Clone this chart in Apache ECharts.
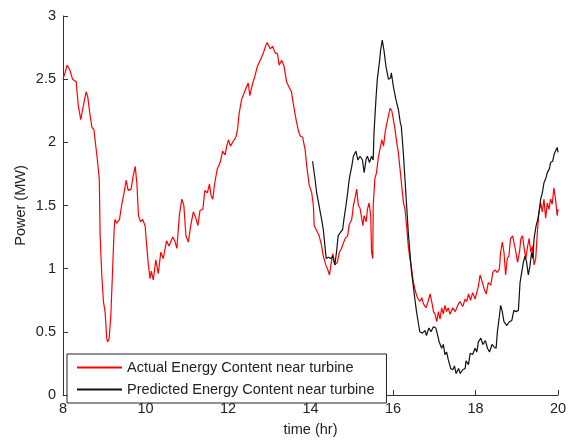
<!DOCTYPE html>
<html>
<head>
<meta charset="utf-8">
<script src="https://cdn.jsdelivr.net/npm/echarts@6/dist/echarts.min.js"></script>
<style>html,body{margin:0;padding:0;background:#fff;}#c{width:570px;height:442px;}</style>
</head>
<body>
<div id="c"></div>
<script>
var seriesNames = ['Actual Energy Content near turbine', 'Predicted Energy Content near turbine'];
var xTicks = [8, 10, 12, 14, 16, 18, 20];
var yTicks = [0, 0.5, 1, 1.5, 2, 2.5, 3];

var actualT = [8.00,8.05,8.10,8.17,8.23,8.32,8.37,8.43,8.50,8.56,8.60,8.65,8.70,8.75,8.83,8.88,8.90,8.94,8.98,9.02,9.06,9.08,9.12,9.16,9.20,9.24,9.26,9.30,9.37,9.42,9.48,9.53,9.58,9.65,9.70,9.75,9.79,9.83,9.88,9.93,9.99,10.03,10.07,10.11,10.14,10.19,10.25,10.31,10.37,10.43,10.51,10.57,10.66,10.71,10.76,10.82,10.88,10.93,10.98,11.04,11.09,11.16,11.22,11.27,11.32,11.39,11.44,11.50,11.55,11.59,11.63,11.68,11.74,11.81,11.87,11.93,11.97,12.01,12.06,12.13,12.19,12.23,12.27,12.33,12.38,12.45,12.49,12.53,12.60,12.65,12.71,12.78,12.86,12.92,12.95,13.02,13.08,13.14,13.20,13.24,13.30,13.36,13.42,13.49,13.54,13.58,13.65,13.70,13.75,13.81,13.87,13.91,13.97,14.03,14.07,14.09,14.15,14.21,14.27,14.31,14.37,14.41,14.46,14.50,14.54,14.59,14.65,14.70,14.75,14.79,14.84,14.90,14.94,15.00,15.04,15.08,15.12,15.16,15.20,15.24,15.27,15.30,15.35,15.38,15.42,15.46,15.48,15.51,15.52,15.56,15.60,15.64,15.68,15.73,15.77,15.81,15.85,15.89,15.93,15.97,16.01,16.05,16.09,16.13,16.17,16.21,16.25,16.29,16.33,16.37,16.41,16.45,16.49,16.53,16.57,16.61,16.65,16.70,16.74,16.80,16.85,16.90,16.95,16.98,17.02,17.06,17.10,17.14,17.18,17.22,17.26,17.30,17.34,17.38,17.45,17.51,17.57,17.62,17.69,17.75,17.79,17.83,17.88,17.93,17.99,18.03,18.07,18.11,18.15,18.21,18.26,18.31,18.37,18.42,18.47,18.53,18.58,18.61,18.65,18.69,18.73,18.77,18.81,18.85,18.90,18.94,18.98,19.02,19.07,19.10,19.14,19.18,19.22,19.26,19.30,19.34,19.38,19.42,19.46,19.50,19.54,19.58,19.62,19.66,19.70,19.74,19.78,19.82,19.86,19.90,19.94,19.98,20.00];
var actualP = [2.50,2.55,2.61,2.57,2.50,2.48,2.29,2.18,2.30,2.40,2.36,2.23,2.12,2.10,1.87,1.71,1.26,0.95,0.74,0.66,0.45,0.42,0.45,0.63,0.97,1.31,1.39,1.36,1.39,1.50,1.60,1.70,1.62,1.63,1.73,1.81,1.68,1.42,1.37,1.39,1.34,1.18,1.03,0.92,0.98,0.91,1.07,0.96,1.13,1.08,1.22,1.18,1.25,1.22,1.16,1.42,1.55,1.50,1.26,1.21,1.33,1.45,1.40,1.34,1.46,1.47,1.62,1.60,1.67,1.58,1.55,1.68,1.79,1.84,1.93,1.90,1.97,2.02,1.97,2.01,2.04,2.10,2.23,2.34,2.38,2.44,2.47,2.37,2.47,2.52,2.60,2.65,2.71,2.77,2.79,2.74,2.76,2.71,2.70,2.61,2.65,2.60,2.48,2.43,2.40,2.31,2.18,2.10,2.05,2.04,1.94,1.81,1.66,1.60,1.50,1.34,1.30,1.26,1.18,1.10,1.03,1.00,0.95,1.04,1.12,1.03,1.05,1.13,1.16,1.16,1.24,1.26,1.35,1.39,1.50,1.56,1.63,1.50,1.48,1.47,1.34,1.42,1.37,1.47,1.52,1.42,1.13,1.08,1.50,1.71,1.76,1.87,1.94,2.02,1.97,2.08,2.15,2.21,2.27,2.25,2.18,2.10,2.00,1.92,1.79,1.66,1.53,1.47,1.34,1.18,1.08,1.00,0.90,0.84,0.79,0.76,0.74,0.77,0.72,0.69,0.74,0.80,0.72,0.66,0.64,0.58,0.66,0.60,0.69,0.64,0.71,0.66,0.69,0.64,0.69,0.66,0.71,0.74,0.70,0.76,0.74,0.80,0.75,0.81,0.76,0.81,0.86,0.95,0.91,0.84,0.80,0.89,0.87,0.97,0.99,0.97,1.00,1.13,1.21,1.13,0.95,1.08,1.10,1.24,1.26,1.25,1.13,1.05,1.14,1.24,1.26,1.16,1.08,1.17,1.24,1.13,1.18,1.03,1.08,1.29,1.45,1.52,1.45,1.55,1.40,1.52,1.47,1.55,1.51,1.64,1.55,1.42,1.47];

var predictedT = [14.05,14.08,14.11,14.15,14.19,14.23,14.27,14.31,14.35,14.38,14.43,14.49,14.54,14.59,14.63,14.67,14.73,14.78,14.81,14.86,14.90,14.94,15.00,15.04,15.10,15.15,15.20,15.26,15.30,15.35,15.38,15.43,15.48,15.52,15.54,15.59,15.62,15.67,15.70,15.74,15.78,15.83,15.89,15.94,15.96,16.01,16.07,16.13,16.18,16.20,16.25,16.29,16.33,16.37,16.41,16.45,16.49,16.53,16.57,16.61,16.65,16.71,16.78,16.81,16.87,16.92,16.98,17.04,17.08,17.12,17.18,17.22,17.26,17.30,17.34,17.40,17.45,17.49,17.53,17.59,17.63,17.69,17.75,17.77,17.83,17.87,17.93,17.99,18.03,18.07,18.13,18.18,18.24,18.29,18.34,18.40,18.45,18.50,18.53,18.57,18.61,18.65,18.69,18.76,18.82,18.88,18.93,18.98,19.04,19.08,19.12,19.16,19.20,19.24,19.28,19.32,19.36,19.39,19.42,19.47,19.51,19.55,19.58,19.62,19.66,19.71,19.74,19.79,19.82,19.87,19.91,19.95,19.98,20.00];
var predictedP = [1.85,1.84,1.71,1.60,1.53,1.46,1.39,1.31,1.18,1.08,1.09,1.08,1.10,1.03,1.13,1.26,1.29,1.31,1.39,1.50,1.60,1.71,1.81,1.89,1.93,1.86,1.89,1.86,1.76,1.87,1.89,1.84,1.89,1.86,2.08,2.36,2.50,2.63,2.73,2.81,2.73,2.60,2.50,2.51,2.55,2.44,2.34,2.26,2.15,2.13,1.92,1.71,1.50,1.29,1.13,0.97,0.87,0.76,0.66,0.58,0.50,0.49,0.51,0.47,0.53,0.50,0.54,0.53,0.54,0.42,0.37,0.40,0.32,0.34,0.28,0.21,0.20,0.23,0.17,0.21,0.17,0.20,0.21,0.27,0.24,0.33,0.32,0.37,0.34,0.42,0.45,0.40,0.43,0.37,0.34,0.40,0.38,0.37,0.50,0.60,0.71,0.66,0.58,0.55,0.58,0.59,0.67,0.66,0.67,0.89,0.97,1.05,1.10,1.05,0.95,1.02,1.13,1.08,1.24,1.34,1.39,1.47,1.55,1.60,1.68,1.72,1.76,1.79,1.84,1.85,1.91,1.92,1.96,1.92];

function zip(t, p) { return t.map(function (v, i) { return [v, p[i]]; }); }

var font = '"Liberation Sans", Arial, sans-serif';
var fs = 14.5;
var chart = echarts.init(document.getElementById('c'), null, { renderer: 'canvas' });
chart.setOption({
  animation: false,
  backgroundColor: '#fff',
  textStyle: { fontFamily: font },
  grid: { left: 63, right: 12, top: 16, bottom: 45, containLabel: false },
  legend: {
    orient: 'vertical',
    left: 67, top: 354,
    padding: [5, 12, 5, 10],
    itemGap: 5,
    itemWidth: 45, itemHeight: 2,
    itemTextGap: 5,
    icon: 'rect',
    backgroundColor: '#fff',
    borderColor: '#222', borderWidth: 1,
    textStyle: { fontFamily: font, fontSize: fs, lineHeight: 17, color: '#222' },
    data: seriesNames
  },
  xAxis: {
    type: 'value', min: xTicks[0], max: xTicks[xTicks.length - 1], interval: 2,
    name: 'time (hr)', nameLocation: 'middle', nameGap: 27, nameMoveOverlap: false,
    nameTextStyle: { fontFamily: font, fontSize: fs, color: '#222' },
    axisLine: { lineStyle: { color: '#333', width: 1 } },
    axisTick: { inside: true, length: 5, lineStyle: { color: '#333' } },
    axisLabel: { fontFamily: font, fontSize: fs, color: '#222', margin: 6 },
    splitLine: { show: false }
  },
  yAxis: {
    type: 'value', min: yTicks[0], max: yTicks[yTicks.length - 1], interval: 0.5,
    name: 'Power (MW)', nameLocation: 'middle', nameGap: 35, nameMoveOverlap: false,
    nameTextStyle: { fontFamily: font, fontSize: fs, color: '#222' },
    axisLine: { show: true, lineStyle: { color: '#333', width: 1 } },
    axisTick: { show: true, inside: true, length: 5, lineStyle: { color: '#333' } },
    axisLabel: { fontFamily: font, fontSize: fs, color: '#222', margin: 7 },
    splitLine: { show: false }
  },
  series: [
    {
      name: seriesNames[0], type: 'line', data: zip(actualT, actualP),
      showSymbol: false, symbol: 'none',
      lineStyle: { color: '#ff0000', width: 1.2 }, itemStyle: { color: '#ff0000' }
    },
    {
      name: seriesNames[1], type: 'line', data: zip(predictedT, predictedP),
      showSymbol: false, symbol: 'none',
      lineStyle: { color: '#111', width: 1.2 }, itemStyle: { color: '#111' }
    }
  ]
});
</script>
</body>
</html>
